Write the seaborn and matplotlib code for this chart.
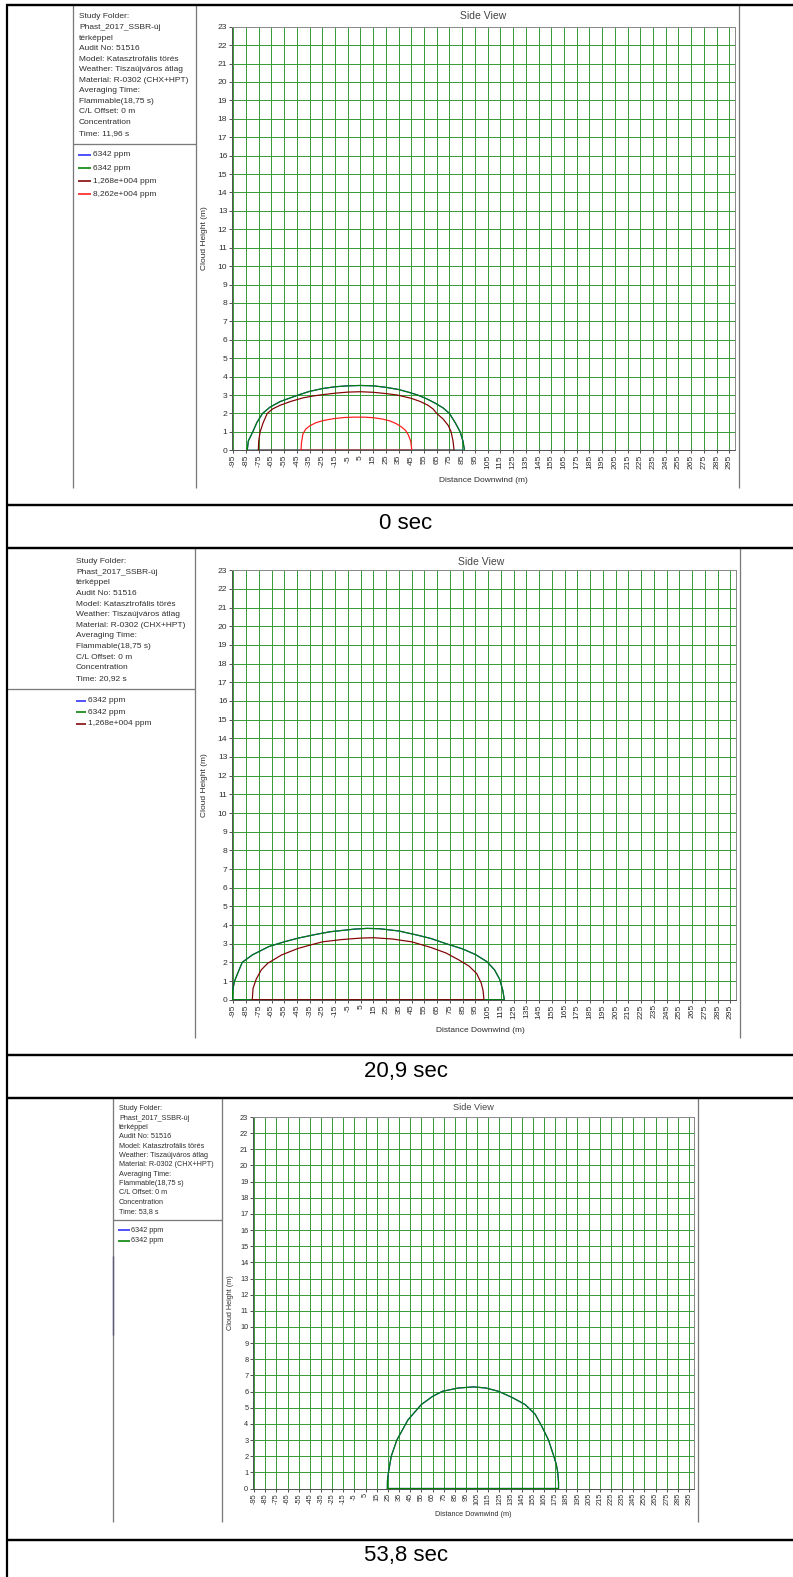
import matplotlib
matplotlib.use("Agg")
import matplotlib.pyplot as plt
from matplotlib.lines import Line2D
import pandas as pd
import seaborn as sns

W, H, DPI = 793, 1577, 100

# ---------------------------------------------------------------- data
x_ticks = list(range(-95, 300, 10))
y_ticks = list(range(0, 24))
x_limits = (-96, 299.5)
y_limits = (0, 23)

info_lines = ["Study Folder:", "Phast_2017_SSBR-új", "térképpel", "Audit No: 51516",
              "Model: Katasztrofális törés", "Weather: Tiszaújváros átlag",
              "Material: R-0302 (CHX+HPT)", "Averaging Time:", "Flammable(18,75 s)",
              "C/L Offset: 0 m", "Concentration"]
snapshot_times = ["Time: 11,96 s", "Time: 20,92 s", "Time: 53,8 s"]
captions = ["0 sec", "20,9 sec", "53,8 sec"]

series_labels = ["6342 ppm", "6342 ppm", "1,268e+004 ppm", "8,262e+004 ppm"]
series_colors = ["#2a2aff", "#008000", "#800000", "#ff1a1a"]

# cloud outlines (distance downwind m, height m), t = 11.96 s
t1_green_x = [-84, -83.2, -79.7, -76.5, -72, -66, -58, -50, -44, -35, -25, -15, -5, 5, 15, 25,
              35, 43, 50, 57, 64, 70, 75, 79.5, 83.4, 85.6, 86.8]
t1_green_y = [0, 0.5, 1.0, 1.5, 2.0, 2.35, 2.65, 2.85, 3.0, 3.2, 3.35, 3.45, 3.5, 3.52, 3.5, 3.42,
              3.3, 3.15, 3.0, 2.8, 2.55, 2.3, 2.0, 1.5, 1.0, 0.5, 0]
t1_maroon_x = [-75.3, -75, -73.9, -71.5, -68.3, -64, -58, -50, -40, -32, -25, -15, -5, 5, 15, 25,
               34, 45, 52, 58, 62, 65, 70, 74, 76.3, 77.8, 78.6]
t1_maroon_y = [0, 0.5, 1.0, 1.5, 2.0, 2.25, 2.45, 2.65, 2.85, 2.95, 3.02, 3.1, 3.16, 3.18, 3.15,
               3.08, 3.0, 2.82, 2.65, 2.45, 2.25, 2.0, 1.7, 1.35, 1.0, 0.5, 0]
t1_red_x = [-41.7, -41.4, -40.2, -38, -35, -30, -24, -16, -8, 0, 8, 15, 22, 28, 33, 37, 40.5,
            42.7, 44.5, 45.4]
t1_red_y = [0, 0.4, 0.9, 1.15, 1.32, 1.5, 1.62, 1.72, 1.78, 1.8, 1.8, 1.77, 1.7, 1.6, 1.45,
            1.28, 1.08, 0.83, 0.5, 0]

# t = 20.92 s
t2_green_x = [-96, -95.5, -94, -91, -88, -80, -67, -55, -44, -30, -19, 0, 10, 20, 35, 50, 60,
              72, 85, 95, 104, 110, 114, 116.5, 117.7]
t2_green_y = [0, 0.5, 1.0, 1.5, 2.0, 2.4, 2.85, 3.1, 3.3, 3.5, 3.64, 3.78, 3.82, 3.8, 3.68,
              3.45, 3.28, 3.0, 2.72, 2.42, 2.04, 1.6, 1.1, 0.5, 0]
t2_maroon_x = [-80.1, -79.5, -77, -73, -68, -57, -44, -35, -25, -10, 5, 15, 30, 45, 60, 72, 82,
               90, 96, 99.5, 101, 101.7]
t2_maroon_y = [0, 0.6, 1.1, 1.6, 1.95, 2.4, 2.75, 2.92, 3.1, 3.22, 3.3, 3.32, 3.25, 3.1, 2.8,
               2.5, 2.13, 1.8, 1.4, 0.9, 0.5, 0]

# t = 53.8 s
t3_green_x = [24.5, 24.6, 25.5, 28, 33, 43, 55, 65, 74, 88, 102, 113, 124, 136, 148, 157, 163,
              169, 173.3, 176, 177.3, 178, 178]
t3_green_y = [0, 0.5, 1.0, 2.0, 3.0, 4.25, 5.2, 5.7, 6.02, 6.22, 6.29, 6.22, 6.02, 5.65, 5.2,
              4.6, 3.85, 3.0, 2.1, 1.5, 1.0, 0.4, 0]

# blue (first 6342 ppm contour) coincides with the green one and lies beneath it
snapshots = [
    [(0, t1_green_x, t1_green_y), (1, t1_green_x, t1_green_y),
     (2, t1_maroon_x, t1_maroon_y), (3, t1_red_x, t1_red_y)],
    [(0, t2_green_x, t2_green_y), (1, t2_green_x, t2_green_y),
     (2, t2_maroon_x, t2_maroon_y)],
    [(0, t3_green_x, t3_green_y), (1, t3_green_x, t3_green_y)],
]

# ---------------------------------------------------------------- style
sns.set_theme(style="white")
plt.rcParams["font.family"] = ["Liberation Sans", "DejaVu Sans"]

GRID = "#3a9c3a"
PANEL_LINE = "#7a7a7a"
TEXT = "#2e2e2e"

fig = plt.figure(figsize=(W / DPI, H / DPI), dpi=DPI)
fig.patch.set_facecolor("white")


def pt(px):
    return px * 72.0 / DPI


def fig_line(xs, ys, color, lw_px):
    fig.add_artist(Line2D([x / W for x in xs], [1 - y / H for y in ys],
                          transform=fig.transFigure, color=color, lw=pt(lw_px),
                          solid_capstyle="butt"))


def fig_text(x, y, s, size, **kw):
    kw.setdefault("ha", "left")
    kw.setdefault("va", "center")
    fig.text(x / W, 1 - y / H, s, fontsize=size, **kw)


# panel layouts in pixels
layouts = [
    dict(plot=(232, 26.7, 735, 450.3), side=(483, 16), xlab=(483, 480), ylab=(204, 238.5),
         info=(79, 17, 10.55), sep=(144, 73, 196), leg_y=[155, 168.3, 181.3, 194],
         leg_line=(78, 91), leg_text=93, vlines=[(73, 5, 488), (196, 5, 488), (739, 5, 488)],
         scale=1.0),
    dict(plot=(232, 570.3, 736, 999.7), side=(481.5, 561.7), xlab=(480.5, 1030), ylab=(204, 785),
         info=(76, 561.7, 10.6), sep=(689.3, 7, 195), leg_y=[700.7, 712, 723.5],
         leg_line=(76, 86), leg_text=88, vlines=[(195, 548.3, 1038), (740, 548.3, 1038)],
         scale=1.0),
    dict(plot=(253, 1117, 694, 1488.5), side=(473, 1108), xlab=(473, 1514), ylab=(230, 1303),
         info=(119, 1109, 9.3), sep=(1220, 113, 222), leg_y=[1230, 1241],
         leg_line=(118, 130), leg_text=131,
         vlines=[(113, 1097.7, 1521.5), (222, 1097.7, 1521.5), (698, 1097.7, 1521.5)],
         scale=0.875),
]

for k, (lay, series) in enumerate(zip(layouts, snapshots)):
    s = lay["scale"]
    l, t, r, b = lay["plot"]
    ax = fig.add_axes([l / W, 1 - b / H, (r - l) / W, (b - t) / H])
    ax.set_facecolor("white")

    for idx, xs, ys in series:
        df = pd.DataFrame({"distance": list(xs) + [xs[0]], "height": list(ys) + [ys[0]]})
        sns.lineplot(data=df, x="distance", y="height", ax=ax, sort=False, estimator=None,
                     color=series_colors[idx], lw=pt(1.2), zorder=3 + idx)

    ax.set_xlim(*x_limits)
    ax.set_ylim(*y_limits)
    ax.set_xticks(x_ticks)
    ax.set_xticklabels([str(v) for v in x_ticks], rotation=90)
    ax.set_yticks(y_ticks)
    ax.set_yticklabels([str(v) for v in y_ticks])
    ax.set_xlabel("")
    ax.set_ylabel("")
    ax.grid(True, color=GRID, lw=pt(1.0), zorder=1)
    ax.set_axisbelow(True)
    ax.tick_params(axis="both", which="major", direction="out", length=pt(3), width=pt(1),
                   color="#555555", labelsize=6.1 * s, labelcolor=TEXT, pad=1.2,
                   bottom=True, left=True)
    for side_name, spine in ax.spines.items():
        spine.set_visible(True)
        spine.set_linewidth(pt(1))
        spine.set_color("#555555" if side_name in ("left", "bottom") else "#8a8a8a")

    # chart texts
    fig_text(*lay["side"], "Side View", 7.5 * s, ha="center", color="#444444")
    fig_text(*lay["xlab"], "Distance Downwind (m)", 6.0 * s, ha="center", color=TEXT)
    fig_text(*lay["ylab"], "Cloud Height (m)", 6.0 * s, ha="center", rotation=90, color=TEXT)

    # study information block
    ix, iy, dy = lay["info"]
    for j, line in enumerate(info_lines + [snapshot_times[k]]):
        fig_text(ix, iy + j * dy, line, 6.0 * s, color=TEXT)

    # legend block
    x0, x1 = lay["leg_line"]
    for j, yy in enumerate(lay["leg_y"]):
        fig_line([x0, x1], [yy, yy], series_colors[j], 1.6)
        fig_text(lay["leg_text"], yy, series_labels[j], 6.0 * s, color=TEXT)

    # screenshot panel frames
    sy, sx0, sx1 = lay["sep"]
    fig_line([sx0, sx1], [sy, sy], PANEL_LINE, 1.3)
    for vx, vy0, vy1 in lay["vlines"]:
        fig_line([vx, vx], [vy0, vy1], PANEL_LINE, 1.3)

# darker stretch of the left frame in the last panel
fig_line([113, 113], [1256, 1335], "#5a5a7a", 1.4)

# caption rows
for text, yy in zip(captions, [523.3, 1071, 1555.5]):
    fig_text(406, yy, text, 16, ha="center", color="black")

# table borders
for yy in [5, 505, 548.3, 1054.5, 1097.7, 1539.5]:
    fig_line([6, W], [yy, yy], "black", 2.4)
fig_line([7, 7], [4, H], "black", 2.2)

fig.savefig("out.png", dpi=DPI, facecolor="white")
